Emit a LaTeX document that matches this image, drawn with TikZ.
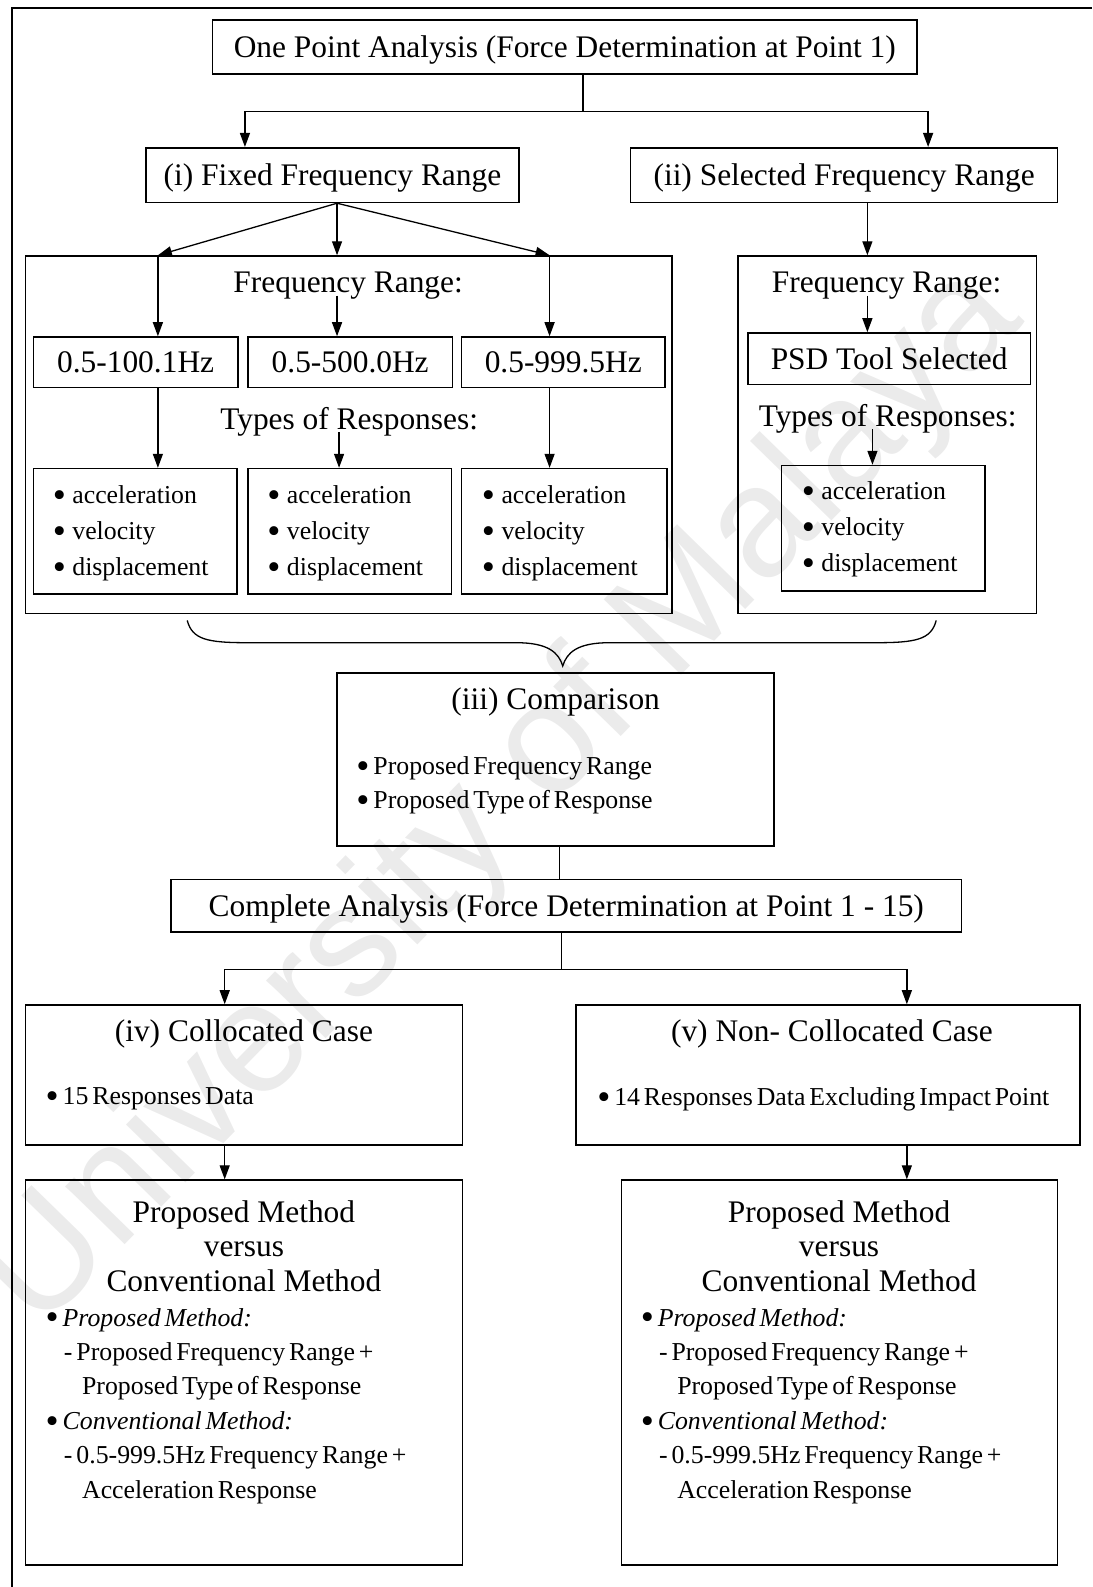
\documentclass[tikz,border=0pt]{standalone}
\usepackage{fontspec}
\setmainfont{Liberation Serif}
\newfontfamily\tightserif[WordSpace=0.6]{Liberation Serif}
\newfontfamily\marksans{Liberation Sans}
\usetikzlibrary{arrows.meta}

\newcommand\fsbig{\fontsize{31.4pt}{34.4pt}\selectfont}
\newcommand\fssmall{\fontsize{25.8pt}{35.9pt}\selectfont}
\newcommand\fstight{\tightserif\fontsize{25.8pt}{34.4pt}\selectfont}
% a slightly heavier list bullet
\newcommand\bul{\raisebox{-0.15em}{\scalebox{1.45}{\textbullet}}}

% box from corner (x1,y1) to corner (x2,y2), in picture units
\newcommand\mkbox[6]{%
  \node[boxst, minimum width={(#4-#2)*1.012pt}, minimum height={(#5-#3)*1.012pt}]
    (#1) at ({(#2+#4)/2},{(#3+#5)/2}) {#6};}

\begin{document}
\begin{tikzpicture}[x=1.012pt, y=-1.012pt,
  boxst/.style={draw, line width=1.6pt, inner sep=0pt, font=\fsbig,
                text height=24pt, text depth=3pt},
  lbl/.style={inner sep=0pt, font=\fsbig, text height=7.2pt, text depth=2.5pt},
  item/.style={inner sep=0pt, font=\fssmall, align=left, anchor=west},
  titem/.style={inner sep=0pt, font=\fstight, align=left, anchor=west},
  ln/.style={line width=1.3pt},
  arr/.style={ln, -{Triangle[length=14pt, width=10pt]}},
  frame/.style={line width=1.8pt}]

\useasboundingbox (0,0) rectangle (1079,1568);

% watermark behind everything
\node[rotate=45.7, text=black!8, inner sep=0pt,
      font=\marksans\fontsize{157pt}{160pt}\selectfont] (wm) at (497,790) {University of Malaya};

% page frame
\draw[frame] (12,1568) -- (12,8) -- (1079,8);

% ---- boxes ----
\mkbox{top}{210}{20}{906}{73}{One Point Analysis (Force Determination at Point 1)}
\mkbox{fi}{144}{146}{513}{200}{(i) Fixed Frequency Range}
\mkbox{fs}{623}{146}{1045}{200}{(ii) Selected Frequency Range}

\mkbox{fa}{25}{253}{664}{606}{}
\mkbox{fb}{729}{253}{1024}{606}{}

\mkbox{r1}{33}{333}{235}{383}{0.5-100.1Hz}
\mkbox{r2}{245}{333}{447}{383}{0.5-500.0Hz}
\mkbox{r3}{456}{333}{657}{383}{0.5-999.5Hz}

\mkbox{t1}{33}{463}{234}{587}{}
\mkbox{t2}{245}{463}{446}{587}{}
\mkbox{t3}{456}{463}{659}{587}{}

\mkbox{psd}{739}{329}{1018}{380}{PSD Tool Selected}
\mkbox{t4}{772}{460}{973}{584}{}

\mkbox{cmp}{333}{665}{765}{836}{}
\mkbox{all}{169}{869}{950}{921}{Complete Analysis (Force Determination at Point 1 - 15)}

\mkbox{col}{25}{993}{457}{1131}{}
\mkbox{ncol}{569}{993}{1067}{1131}{}
\mkbox{pm1}{25}{1166}{457}{1546}{}
\mkbox{pm2}{614}{1166}{1045}{1546}{}

% ---- labels inside the frames ----
\node[lbl] (fr1) at (344,287) {Frequency Range:};
\node[lbl] (tr1) at (345,422) {Types of Responses:};
\node[lbl] (fr2) at (876,287) {Frequency Range:};
\node[lbl] (tr2) at (877,419) {Types of Responses:};

\node[item] (l1) at (52,527) {\bul{} acceleration\\\bul{} velocity\\\bul{} displacement};
\node[item] (l2) at (264,527) {\bul{} acceleration\\\bul{} velocity\\\bul{} displacement};
\node[item] (l3) at (476,527) {\bul{} acceleration\\\bul{} velocity\\\bul{} displacement};
\node[item] (l4) at (792,523) {\bul{} acceleration\\\bul{} velocity\\\bul{} displacement};

% comparison
\node[lbl] (cmpT) at (549,699) {(iii) Comparison};
\node[titem] (cmpL) at (352,776) {\bul{} Proposed Frequency Range\\\bul{} Proposed Type of Response};

% cases
\node[lbl] (colT) at (241,1027) {(iv) Collocated Case};
\node[titem] (colL) at (45,1086) {\bul{} 15 Responses Data};
\node[lbl] (ncolT) at (822,1027) {(v) Non- Collocated Case};
\node[titem] (ncolL) at (590,1086) {\bul{} 14 Responses Data Excluding Impact Point};

% method comparison
\node[inner sep=0pt, font=\fsbig, align=center] (pm1T) at (241,1231) {Proposed Method\\versus\\Conventional Method};
\node[inner sep=0pt, font=\fsbig, align=center] (pm2T) at (829,1231) {Proposed Method\\versus\\Conventional Method};
\node[titem] (pm1L) at (45,1389) {\bul{} \textit{Proposed Method:}\\
  \hspace*{18.2pt}- Proposed Frequency Range +\\
  \hspace*{36.4pt}Proposed Type of Response\\
  \bul{} \textit{Conventional Method:}\\
  \hspace*{18.2pt}- 0.5-999.5Hz Frequency Range +\\
  \hspace*{36.4pt}Acceleration Response};
\node[titem] (pm2L) at (633,1389) {\bul{} \textit{Proposed Method:}\\
  \hspace*{18.2pt}- Proposed Frequency Range +\\
  \hspace*{36.4pt}Proposed Type of Response\\
  \bul{} \textit{Conventional Method:}\\
  \hspace*{18.2pt}- 0.5-999.5Hz Frequency Range +\\
  \hspace*{36.4pt}Acceleration Response};

% ---- connectors ----
\coordinate (s1) at (576,110);
\draw[ln] (top.south -| s1) -- (s1);
\draw[arr] (s1) -| (fi.north -| 242,0);
\draw[arr] (s1) -| (fs.north -| 917,0);

\coordinate (f0) at (fi.south -| 333,0);
\coordinate (fl) at (fa.north -| 156,0);
\coordinate (fm) at (fa.north -| 333,0);
\coordinate (fr) at (fa.north -| 543,0);
\draw[arr] (f0) -- (fl);
\draw[arr] (f0) -- (fm);
\draw[arr] (f0) -- (fr);
\draw[arr] (fl) -- (r1.north -| fl);
\draw[arr] (fr) -- (r3.north -| fr);
\draw[arr] (fr1.south -| 333,0) -- (r2.north -| 333,0);
\draw[arr] (r1.south -| 156,0) -- (t1.north -| 156,0);
\draw[arr] (r3.south -| 543,0) -- (t3.north -| 543,0);
\draw[arr] (tr1.south -| 335,0) -- (t2.north -| 335,0);

\draw[arr] (fs.south -| 857,0) -- (fb.north -| 857,0);
\draw[arr] (fr2.south -| 857,0) -- (psd.north -| 857,0);
\draw[arr] (tr2.south -| 862,0) -- (t4.north -| 862,0);

% brace gathering both frequency studies
\coordinate (bl) at (185,613);
\coordinate (br) at (925,613);
\coordinate (bt) at (556,658);
\draw[ln] (bl) .. controls (190,632) and (205,635) .. (245,635) -- (510,635)
  .. controls (542,635) and (552,645) .. (bt)
  .. controls (560,645) and (570,635) .. (602,635) -- (865,635)
  .. controls (905,635) and (920,632) .. (br);

\draw[ln] (cmp.south -| 553,0) -- (all.north -| 553,0);

\coordinate (s2) at (555,958);
\draw[ln] (all.south -| s2) -- (s2);
\draw[arr] (s2) -| (col.north -| 222,0);
\draw[arr] (s2) -| (ncol.north -| 896,0);
\draw[arr] (col.south -| 222,0) -- (pm1.north -| 222,0);
\draw[arr] (ncol.south -| 896,0) -- (pm2.north -| 896,0);
\end{tikzpicture}
\end{document}
